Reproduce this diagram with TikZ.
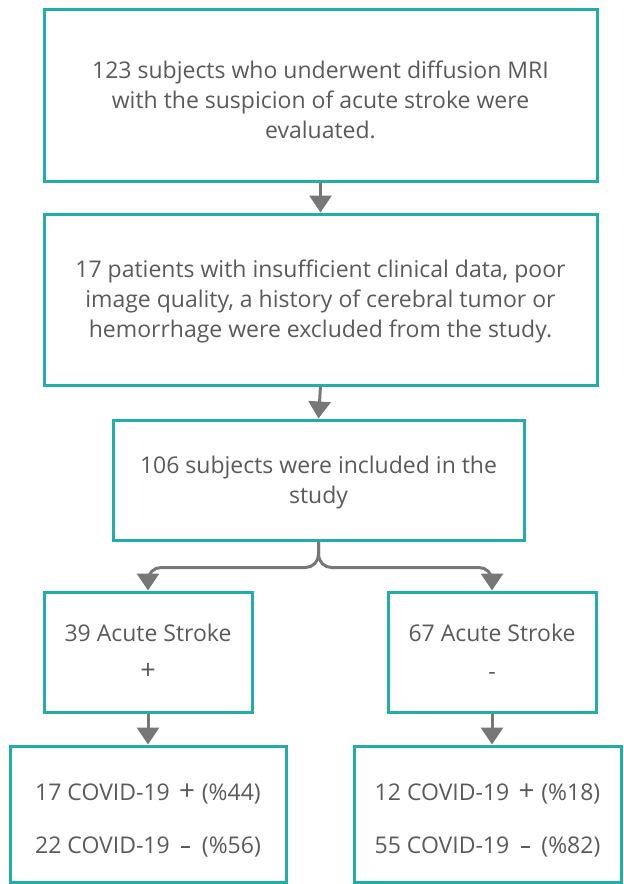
\documentclass[tikz,border=0pt]{standalone}
\usepackage{fontspec}
\setmainfont{Open Sans}
\usetikzlibrary{arrows.meta}
\definecolor{teal1}{HTML}{22ADAA}
\definecolor{txt}{HTML}{5A5A5A}
\definecolor{arr}{HTML}{777777}
\newcommand{\mydash}{\rule[0.38ex]{0.4em}{2.8pt}}
\tikzset{
  box/.style={draw=teal1, line width=3pt, inner sep=0pt},
  lbl/.style={text=txt, align=center, inner sep=0pt, font=\fontsize{23}{30}\selectfont},
  conn/.style={draw=arr, line width=3pt, -{Triangle[width=22pt,length=17pt]}},
}
\begin{document}
\begin{tikzpicture}[x=1pt,y=-1pt]
\useasboundingbox (0,0) rectangle (624,884);
\node[box, minimum width=553pt, minimum height=172pt] (b1) at (320.5,95) {};
\node[lbl] (t1) at (320.5,100)
  {123 subjects who underwent diffusion MRI\\with the suspicion of acute stroke were\\evaluated.};
\node[box, minimum width=553pt, minimum height=171pt] (b2) at (320.5,299.5) {};
\node[lbl] (t2) at (320.5,301)
  {17 patients with insufficient clinical data, poor\\image quality, a history of cerebral tumor or\\hemorrhage were excluded from the study.};
\node[box, minimum width=411pt, minimum height=120pt] (b3) at (318.5,480) {};
\node[lbl] (t3) at (318.5,483) {106 subjects were included in the\\study};
\node[box, minimum width=208pt, minimum height=120pt] (b4) at (148,652) {};
\node[lbl, font=\fontsize{23}{38}\selectfont] (t4) at (148,652)
  {39 Acute Stroke\\{\fontsize{27}{27}\selectfont +}};
\node[box, minimum width=208pt, minimum height=120pt] (b5) at (492,652) {};
\node[lbl, font=\fontsize{23}{38}\selectfont] (t5) at (492,652)
  {67 Acute Stroke\\-};
\node[box, minimum width=276pt, minimum height=136pt] (b6) at (148,814) {};
\node[lbl, font=\fontsize{23}{53}\selectfont] (t6) at (148,820)
  {17 COVID-19\hspace{0.4em}{\fontsize{28}{28}\selectfont +}\hspace{0.3em}(\%44)\\22 COVID-19\hspace{0.5em}\mydash\hspace{0.5em}(\%56)};
\node[box, minimum width=267pt, minimum height=136pt] (b7) at (487.5,814) {};
\node[lbl, font=\fontsize{23}{53}\selectfont] (t7) at (487.5,820)
  {12 COVID-19\hspace{0.4em}{\fontsize{28}{28}\selectfont +}\hspace{0.3em}(\%18)\\55 COVID-19\hspace{0.5em}\mydash\hspace{0.5em}(\%82)};
\draw[conn] (b1.south) -- (b2.north);
\draw[conn] (b2.south) -- (b3.north);
\draw[conn, rounded corners=13pt] (b3.south) -- ++(0,26) -| (b4.north);
\draw[conn, rounded corners=13pt] (b3.south) -- ++(0,26) -| (b5.north);
\draw[conn] (b4.south) -- (b6.north -| b4.south);
\draw[conn] (b5.south) -- (b7.north -| b5.south);
\end{tikzpicture}
\end{document}
